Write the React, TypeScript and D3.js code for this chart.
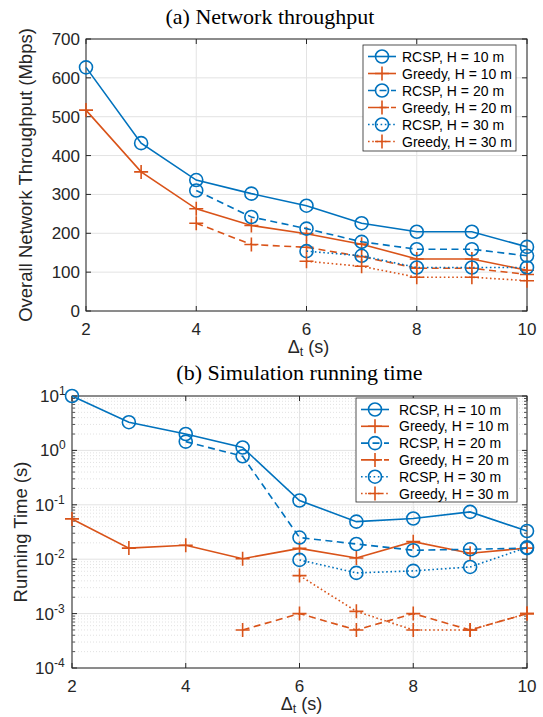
import React, { useRef, useEffect } from 'react'
import * as d3 from 'd3'

const dt = [2, 3, 4, 5, 6, 7, 8, 9, 10]

// (a) throughput, Mbps
const rcsp10T = [627, 432, 337, 302, 271, 226, 204, 204, 165]
const greedy10T = [517, 358, 263, 220, 199, 172, 134, 134, 105]
const rcsp20T = [null, null, 310, 242, 212, 178, 159, 159, 142]
const greedy20T = [null, null, 226, 171, 164, 140, 110, 110, 94]
const rcsp30T = [null, null, null, null, 154, 142, 112, 112, 112]
const greedy30T = [null, null, null, null, 128, 115, 87, 87, 78]

// (b) running time, s
const rcsp10R = [10, 3.3, 2.0, 1.13, 0.12, 0.049, 0.056, 0.074, 0.033]
const greedy10R = [0.055, 0.016, 0.018, 0.0102, 0.0158, 0.0105, 0.021, 0.0129, 0.016]
const rcsp20R = [null, null, 1.45, 0.78, 0.025, 0.019, 0.0146, 0.0152, 0.016]
const greedy20R = [null, null, null, 0.0005, 0.001, 0.0005, 0.001, 0.0005, 0.001]
const rcsp30R = [null, null, null, null, 0.0097, 0.0056, 0.0061, 0.0072, 0.0165]
const greedy30R = [null, null, null, null, 0.005, 0.0011, 0.0005, 0.0005, 0.001]

const seriesNames = ['RCSP, H = 10 m', 'Greedy, H = 10 m', 'RCSP, H = 20 m', 'Greedy, H = 20 m', 'RCSP, H = 30 m', 'Greedy, H = 30 m']
const xTicks = [2, 4, 6, 8, 10]
const yTicksT = [0, 100, 200, 300, 400, 500, 600, 700]
const yExpR = [-4, -3, -2, -1, 0, 1]

const BLUE = '#0072BD'
const ORANGE = '#D95319'
const AX = '#262626'
const SANS = 'Liberation Sans, Arial, sans-serif'
const SERIF = 'Liberation Serif, Times New Roman, serif'

type Style = { color: string; dash: string | null; marker: 'o' | '+' }
const styles: Style[] = [
  { color: BLUE, dash: null, marker: 'o' },
  { color: ORANGE, dash: null, marker: '+' },
  { color: BLUE, dash: '7,4.5', marker: 'o' },
  { color: ORANGE, dash: '7,4.5', marker: '+' },
  { color: BLUE, dash: '1.6,2.6', marker: 'o' },
  { color: ORANGE, dash: '1.6,2.6', marker: '+' },
]

function marker(g: any, kind: string, x: number, y: number, color: string) {
  if (kind === 'o') {
    g.append('circle').attr('cx', x).attr('cy', y).attr('r', 6.5)
      .attr('fill', 'none').attr('stroke', color).attr('stroke-width', 1.6)
  } else {
    g.append('path').attr('d', `M${x - 7},${y}H${x + 7}M${x},${y - 7}V${y + 7}`)
      .attr('stroke', color).attr('stroke-width', 1.6)
  }
}

function drawPanel(svg: any, o: any) {
  const { l, r, t, b, log, series, legend } = o
  const x = d3.scaleLinear().domain([2, 10]).range([l, r])
  const y = log
    ? d3.scaleLog().domain([1e-4, 10]).range([b, t])
    : d3.scaleLinear().domain([0, 700]).range([b, t])

  const g = svg.append('g')
  g.append('rect').attr('x', l).attr('y', t).attr('width', r - l).attr('height', b - t).attr('fill', '#fff')

  // grid
  const majorY = log ? yExpR.map(e => Math.pow(10, e)) : yTicksT
  if (log) {
    const minor: number[] = []
    for (let e = -4; e < 1; e++) for (let m = 2; m <= 9; m++) minor.push(m * Math.pow(10, e))
    minor.forEach(v => {
      g.append('line').attr('x1', l).attr('x2', r).attr('y1', y(v)).attr('y2', y(v))
        .attr('stroke', '#cfcfcf').attr('stroke-width', 0.6).attr('stroke-dasharray', '1,2')
      g.append('line').attr('x1', l).attr('x2', l + 3).attr('y1', y(v)).attr('y2', y(v)).attr('stroke', AX).attr('stroke-width', 0.8)
      g.append('line').attr('x1', r).attr('x2', r - 3).attr('y1', y(v)).attr('y2', y(v)).attr('stroke', AX).attr('stroke-width', 0.8)
    })
  }
  majorY.forEach(v => {
    g.append('line').attr('x1', l).attr('x2', r).attr('y1', y(v)).attr('y2', y(v))
      .attr('stroke', '#e3e3e3').attr('stroke-width', 1)
  })
  xTicks.forEach(v => {
    g.append('line').attr('x1', x(v)).attr('x2', x(v)).attr('y1', t).attr('y2', b)
      .attr('stroke', '#e3e3e3').attr('stroke-width', 1)
  })

  // box and ticks
  g.append('rect').attr('x', l).attr('y', t).attr('width', r - l).attr('height', b - t)
    .attr('fill', 'none').attr('stroke', AX).attr('stroke-width', 1)
  xTicks.forEach(v => {
    g.append('line').attr('x1', x(v)).attr('x2', x(v)).attr('y1', b).attr('y2', b - 5).attr('stroke', AX)
    g.append('line').attr('x1', x(v)).attr('x2', x(v)).attr('y1', t).attr('y2', t + 5).attr('stroke', AX)
    g.append('text').attr('x', x(v)).attr('y', b + 24).attr('text-anchor', 'middle')
      .attr('font-family', SANS).attr('font-size', 17).attr('fill', AX).text(v)
  })
  majorY.forEach((v, i) => {
    g.append('line').attr('x1', l).attr('x2', l + 5).attr('y1', y(v)).attr('y2', y(v)).attr('stroke', AX)
    g.append('line').attr('x1', r).attr('x2', r - 5).attr('y1', y(v)).attr('y2', y(v)).attr('stroke', AX)
    const tx = g.append('text').attr('x', l - 6).attr('y', y(v) + 6).attr('text-anchor', 'end')
      .attr('font-family', SANS).attr('font-size', 17).attr('fill', AX)
    if (log) {
      tx.attr('x', l - 8 - (yExpR[i] < 0 ? 10 : 5))
      tx.append('tspan').text('10')
      g.append('text').attr('x', l - 8 - (yExpR[i] < 0 ? 10 : 5)).attr('y', y(v) - 1)
        .attr('font-family', SANS).attr('font-size', 12).attr('fill', AX).text(yExpR[i])
    } else {
      tx.text(v)
    }
  })

  // series
  const sg = g.append('g')
  series.forEach((vals: (number | null)[], si: number) => {
    const st = styles[si]
    const pts = dt.map((d, i) => [d, vals[i]]).filter(p => p[1] != null) as [number, number][]
    const line = d3.line<[number, number]>().x(p => x(p[0])).y(p => y(p[1]))
    const path = sg.append('path').attr('d', line(pts)).attr('fill', 'none')
      .attr('stroke', st.color).attr('stroke-width', 1.6)
    if (st.dash) path.attr('stroke-dasharray', st.dash)
    pts.forEach(p => marker(sg, st.marker, x(p[0]), y(p[1]), st.color))
  })

  // legend
  const lg = g.append('g')
  lg.append('rect').attr('x', legend.x).attr('y', legend.y).attr('width', legend.w).attr('height', legend.h)
    .attr('fill', '#fff').attr('stroke', AX).attr('stroke-width', 0.8)
  seriesNames.forEach((name, i) => {
    const st = styles[i]
    const yy = legend.y + 11.5 + i * legend.step
    const x0 = legend.x + 5
    const ln = lg.append('line').attr('x1', x0).attr('x2', x0 + 28).attr('y1', yy).attr('y2', yy)
      .attr('stroke', st.color).attr('stroke-width', 1.6)
    if (st.dash) ln.attr('stroke-dasharray', st.dash)
    marker(lg, st.marker, x0 + 14, yy, st.color)
    lg.append('text').attr('x', legend.x + legend.tx).attr('y', yy + 5)
      .attr('font-family', SANS).attr('font-size', 14).attr('fill', '#000').text(name)
  })

  // x label
  const xl = g.append('text').attr('x', (l + r) / 2 + 2).attr('y', o.xlabelY).attr('text-anchor', 'middle')
    .attr('font-family', SANS).attr('font-size', 18).attr('fill', AX)
  xl.append('tspan').text('Δ')
  xl.append('tspan').attr('font-size', 12.5).attr('dy', 3).text('t')
  xl.append('tspan').attr('dy', -3).text(' (s)')

  // y label
  g.append('text').attr('transform', `translate(${o.ylabelX},${(t + b) / 2}) rotate(-90)`)
    .attr('text-anchor', 'middle').attr('font-family', SANS).attr('font-size', 18.5).attr('fill', AX)
    .text(o.ylabel)

  // title
  g.append('text').attr('x', (l + r) / 2).attr('y', o.titleY).attr('text-anchor', 'middle')
    .attr('font-family', SERIF).attr('font-size', 22).attr('fill', '#000').text(o.title)
}

export default function App() {
  const svgRef = useRef<SVGSVGElement>(null)

  useEffect(() => {
    if (!svgRef.current) return
    const svg = d3.select(svgRef.current)
    svg.selectAll('*').remove()
    svg.append('rect').attr('width', 543).attr('height', 717).attr('fill', '#fff')

    drawPanel(svg, {
      l: 86, r: 527, t: 39, b: 311, log: false,
      series: [rcsp10T, greedy10T, rcsp20T, greedy20T, rcsp30T, greedy30T],
      legend: { x: 363, y: 45, w: 153, h: 106, step: 17, tx: 39 },
      xlabelY: 353, ylabelX: 32, ylabel: 'Overall Network Throughput (Mbps)',
      titleY: 380, title: '',
    })
    drawPanel(svg, {
      l: 72, r: 527, t: 396, b: 668, log: true,
      series: [rcsp10R, greedy10R, rcsp20R, greedy20R, rcsp30R, greedy30R],
      legend: { x: 356, y: 398, w: 161, h: 104, step: 16.8, tx: 43 },
      xlabelY: 710, ylabelX: 27, ylabel: 'Running Time (s)',
      titleY: 380, title: '(b) Simulation running time',
    })
    svg.append('text').attr('x', 270).attr('y', 24).attr('text-anchor', 'middle')
      .attr('font-family', SERIF).attr('font-size', 22).attr('fill', '#000').text('(a) Network throughput')
  }, [])

  return (
    <svg ref={svgRef} width={543} height={717}
      style={{ position: 'absolute', left: 0, top: 0, display: 'block' }} />
  )
}
